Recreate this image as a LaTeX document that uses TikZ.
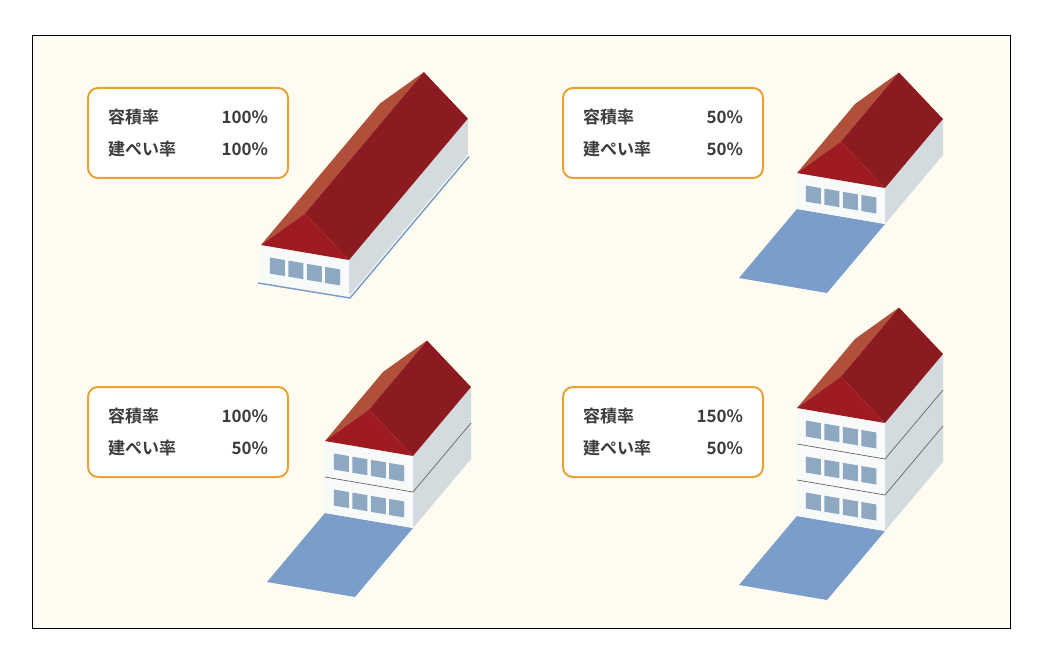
\documentclass[tikz,border=0pt]{standalone}
\usepackage{fontspec}
\newfontfamily\jpfont{Noto Sans CJK JP Bold}
\usetikzlibrary{calc}
\definecolor{bgcream}{HTML}{FEFCF0}
\definecolor{boxorange}{HTML}{E9A236}
\definecolor{textgray}{HTML}{3C3C3C}
\definecolor{lotblue}{HTML}{7B9DC9}
\definecolor{winblue}{HTML}{8EA8C2}
\definecolor{sidewall}{HTML}{D3DBDF}
\definecolor{frontwall}{HTML}{F8F9F9}
\definecolor{gablered}{HTML}{9E1C21}
\definecolor{roofdark}{HTML}{8B1B20}
\definecolor{roofleft}{HTML}{B0503A}
\tikzset{
  labelbox/.style={draw=boxorange, line width=2pt, fill=white, rounded corners=10pt,
    minimum width=200pt, minimum height=90pt},
  labeltxt/.style={text=textgray, font=\jpfont\fontsize{17}{32}\selectfont,
    align=left, text width=160pt},
  floorline/.style={draw=black!60, line width=0.7pt}
}
% x, y, floors, depth, lot (0 none, 1 filled, 2 outline)
\newcommand\drawhouse[5]{%
\begin{scope}[shift={(#1,#2)}]
  \pgfmathsetmacro\hH{36*#3}
  \pgfmathsetmacro\dX{58*#4}
  \pgfmathsetmacro\dY{-69*#4}
  \ifnum#5=1
    \fill[lotblue] (0,0) -- (88,15) -- ++(-58,69) -- ++(-88,-15) -- cycle;
  \fi
  \ifnum#5=2
    \draw[lotblue, line width=1.5pt] (-3,2) -- (89,17) -- ++(\dX,\dY);
  \fi
  \coordinate (E1) at (0,-\hH);
  \coordinate (E2) at (88,15-\hH);
  \coordinate (A) at (44,7.5-\hH-39);
  % walls
  \fill[sidewall] (E2) -- (88,15) -- ++(\dX,\dY) -- ($(E2)+(\dX,\dY)$) -- cycle;
  \fill[frontwall] (0,0) -- (88,15) -- (E2) -- (E1) -- cycle;
  \ifnum#3>1
    \foreach \i in {2,...,#3}
      \draw[floorline] (0,36*\i-36-\hH) -- (88,15+36*\i-36-\hH) -- ++(\dX,\dY);
  \fi
  % windows
  \foreach \j in {1,...,#3}
    \foreach \w in {0,...,3} {
      \pgfmathsetmacro\u{0.1+0.21*\w}
      \fill[winblue] (88*\u, 15*\u-36*\j+36-9) -- ++(15,2.55) -- ++(0,-16)
        -- ++(-15,-2.55) -- cycle;
    }
  % roof
  \fill[roofleft] (E1) -- (A) -- ($(A)+(\dX,\dY)$) -- ($(E1)+(\dX,\dY)$) -- cycle;
  \fill[roofdark] (A) -- (E2) -- ($(E2)+(\dX,\dY)$) -- ($(A)+(\dX,\dY)$) -- cycle;
  \fill[gablered] (E1) -- (A) -- (E2) -- cycle;
\end{scope}}

\begin{document}
\begin{tikzpicture}[x=1pt, y=-1pt]
  \useasboundingbox (0,0) rectangle (1042,666);
  \fill[white] (0,0) rectangle (1042,666);
  \draw[fill=bgcream, line width=0.8pt] (32,35) rectangle (1010,628);

  \drawhouse{261}{281}{1}{2.05}{2}
  \drawhouse{797}{209}{1}{1}{1}
  \drawhouse{325}{513}{2}{1}{1}
  \drawhouse{797}{516}{3}{1}{1}

  \node[labelbox] (box1) at (188,133) {};
  \node[labeltxt] (txt1) at (box1) {容積率\hfill 100\%\\建ぺい率\hfill 100\%};
  \node[labelbox] (box2) at (663,133) {};
  \node[labeltxt] (txt2) at (box2) {容積率\hfill 50\%\\建ぺい率\hfill 50\%};
  \node[labelbox] (box3) at (188,432) {};
  \node[labeltxt] (txt3) at (box3) {容積率\hfill 100\%\\建ぺい率\hfill 50\%};
  \node[labelbox] (box4) at (663,432) {};
  \node[labeltxt] (txt4) at (box4) {容積率\hfill 150\%\\建ぺい率\hfill 50\%};
\end{tikzpicture}
\end{document}
